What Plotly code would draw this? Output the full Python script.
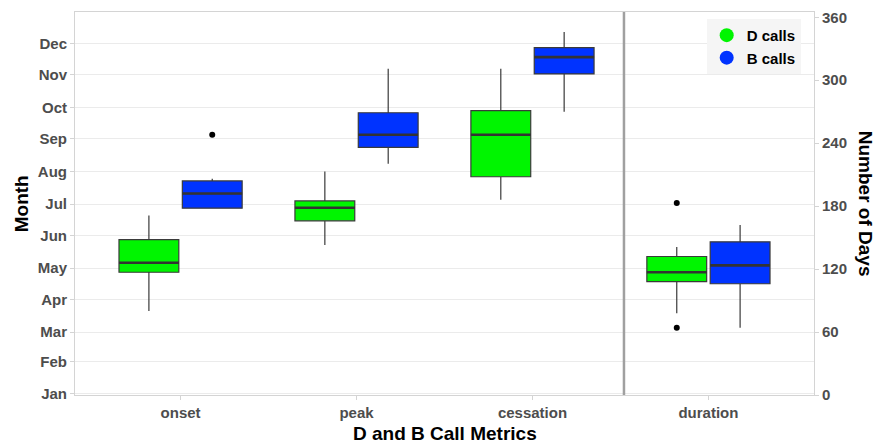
import plotly.graph_objects as go

# ---- data (day of year / number of days) ----
categories = ["onset", "peak", "cessation", "duration"]
series_names = ["D calls", "B calls"]

d_lower = [80, 143, 186, 78]
d_q1 = [117, 166, 208, 108]
d_median = [126, 178.5, 248, 117]
d_q3 = [148, 185, 271, 132]
d_upper = [171, 213, 311, 141]
d_outliers = [[], [], [], [183, 64]]

b_lower = [178, 220.5, 270, 64]
b_q1 = [178, 236, 306, 106]
b_median = [192, 248, 322, 123.5]
b_q3 = [204, 269, 331, 146]
b_upper = [206, 311, 346, 162]
b_outliers = [[248], [], [], []]

month_labels = ["Jan", "Feb", "Mar", "Apr", "May", "Jun", "Jul", "Aug", "Sep", "Oct", "Nov", "Dec"]
month_days = [1, 32, 60, 91, 121, 152, 182, 213, 244, 274, 305, 335]
day_ticks = [0, 60, 120, 180, 240, 300, 360]

# ---- styling ----
colors = ["#00F500", "#0033FF"]
offsets = [-0.18, 0.18]
box_w = 0.34
FONT = "Liberation Sans"
tick_font = dict(family=FONT, size=15, color="#4d4d4d", weight="bold")
title_font = dict(family=FONT, size=19, color="#000000", weight="bold")

fig = go.Figure()

stats = [
    (d_lower, d_q1, d_median, d_q3, d_upper, d_outliers),
    (b_lower, b_q1, b_median, b_q3, b_upper, b_outliers),
]

for s, (lo, q1, med, q3, hi, outs) in enumerate(stats):
    xs = [i + offsets[s] for i in range(len(categories))]
    fig.add_trace(go.Box(
        x=xs, q1=q1, median=med, q3=q3, lowerfence=lo, upperfence=hi,
        width=box_w, fillcolor=colors[s], line=dict(color="#3a3a3a", width=1.2),
        whiskerwidth=0, boxpoints=False, showlegend=False, name=series_names[s],
        hoverinfo="y",
    ))
    # thick median lines
    mx, my = [], []
    for x, m in zip(xs, med):
        mx += [x - box_w / 2, x + box_w / 2, None]
        my += [m, m, None]
    fig.add_trace(go.Scatter(x=mx, y=my, mode="lines", line=dict(color="#333333", width=2.6),
                             showlegend=False, hoverinfo="skip"))
    # outliers
    ox, oy = [], []
    for x, o in zip(xs, outs):
        for v in o:
            ox.append(x)
            oy.append(v)
    fig.add_trace(go.Scatter(x=ox, y=oy, mode="markers", marker=dict(color="black", size=6),
                             showlegend=False))
    # legend entry with circle
    fig.add_trace(go.Scatter(x=[None], y=[None], mode="markers", name=series_names[s],
                             marker=dict(color=colors[s], size=14, symbol="circle")))

# invisible trace to activate right axis
fig.add_trace(go.Scatter(x=[None], y=[None], yaxis="y2", showlegend=False))

fig.add_shape(type="line", x0=2.52, x1=2.52, y0=0, y1=1, xref="x", yref="paper",
              line=dict(color="#a0a0a0", width=2.5))

fig.update_layout(
    width=878, height=445, autosize=False,
    margin=dict(l=75, r=64, t=9, b=50),
    plot_bgcolor="white", paper_bgcolor="white",
    xaxis=dict(range=[-0.6, 3.6], tickvals=list(range(len(categories))), ticktext=categories,
               showgrid=False, zeroline=False, showline=True, mirror=True, linecolor="#d4d4d4",
               ticks="outside", ticklen=4, tickcolor="#d4d4d4", tickfont=tick_font),
    yaxis=dict(range=[0, 365], tickvals=month_days, ticktext=month_labels,
               showgrid=True, gridcolor="#ebebeb", gridwidth=1, zeroline=False,
               showline=True, mirror=True, linecolor="#d4d4d4",
               ticks="outside", ticklen=4, tickcolor="#d4d4d4", tickfont=tick_font),
    yaxis2=dict(range=[0, 365], tickvals=day_ticks, overlaying="y", side="right",
                showgrid=False, zeroline=False, showline=True, linecolor="#d4d4d4",
                ticks="outside", ticklen=4, tickcolor="#d4d4d4", tickfont=tick_font),
    legend=dict(x=0.982, y=0.982, xanchor="right", yanchor="top", bgcolor="#f5f5f5",
                font=dict(family=FONT, size=15, color="#000000", weight="bold"),
                itemsizing="trace", tracegroupgap=0),
    annotations=[
        dict(text="D and B Call Metrics", x=0.5, y=-0.1, xref="paper", yref="paper",
             xanchor="center", yanchor="middle", showarrow=False, font=title_font),
        dict(text="Month", x=-0.072, y=0.5, xref="paper", yref="paper", textangle=-90,
             xanchor="center", yanchor="middle", showarrow=False, font=title_font),
        dict(text="Number of Days", x=1.07, y=0.5, xref="paper", yref="paper", textangle=90,
             xanchor="center", yanchor="middle", showarrow=False, font=title_font),
    ],
)

fig.write_html("out.html", config={"displayModeBar": False},
               post_script="document.body.style.margin='0px';")
